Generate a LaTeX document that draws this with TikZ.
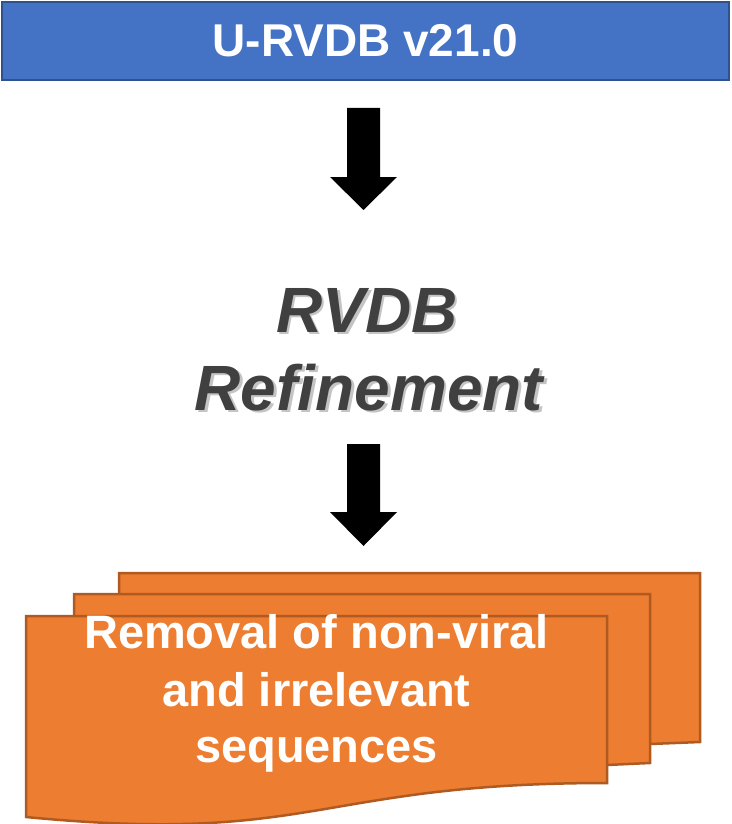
\documentclass[tikz,border=0pt]{standalone}
\usepackage{fontspec}
\setmainfont{Liberation Sans}
\definecolor{boxblue}{HTML}{4472C4}
\definecolor{boxblueedge}{HTML}{2F528F}
\definecolor{docorange}{HTML}{ED7D31}
\definecolor{docedge}{HTML}{AE5A21}
\definecolor{titlegray}{HTML}{404040}
\definecolor{shadowgray}{HTML}{C4C4C4}
\newcommand{\shadowed}[1]{\makebox[0pt][l]{\hspace{2.5pt}\raisebox{-2.5pt}{\textcolor{shadowgray}{#1}}}#1}
\tikzset{
  topbox/.style={draw=boxblueedge, line width=2pt, fill=boxblue, text=white,
    font=\fontsize{46}{55}\selectfont\bfseries, inner sep=0pt},
  reftext/.style={text=titlegray, font=\fontsize{64}{77}\selectfont\bfseries\itshape, inner sep=0pt},
  blockarrow/.style={fill=black},
  docpage/.style={fill=docorange, draw=docedge, line width=2.5pt, line join=miter},
  doctext/.style={text=white, font=\fontsize{47}{57}\selectfont\bfseries, inner sep=0pt}
}
\begin{document}
\begin{tikzpicture}[x=1pt,y=-1pt]
\useasboundingbox (0,0) rectangle (731,824);
% top box
\node[topbox, minimum width=727pt, minimum height=78pt] (top) at (365.5,41) {U-RVDB v21.0};
% arrow 1
\fill[blockarrow] (347,108) -- (380,108) -- (380,177) -- (397,177) -- (363.5,210) -- (330,177) -- (347,177) -- cycle;
% refinement text with shadow
\node[reftext, anchor=base] (rvdb) at (367,332) {\shadowed{RVDB}};
\node[reftext, anchor=base] (refine) at (369,410) {\shadowed{Refinement}};
% arrow 2
\fill[blockarrow] (347,444) -- (380,444) -- (380,512) -- (397,512) -- (363.5,546) -- (330,512) -- (347,512) -- cycle;
% multidocument
\filldraw[docpage] (119,573) -- (700,573) -- (700,742) -- (650,744) -- (119,744) -- cycle;
\filldraw[docpage] (74,594) -- (650,594) -- (650,763) -- (607,765) -- (74,765) -- cycle;
\filldraw[docpage] (26,616) -- (607,616) -- (607,783) .. controls (316,783) and (316,845) .. (26,817) -- cycle;
\node[doctext, anchor=base] (l1) at (316.5,648) {Removal of non-viral};
\node[doctext, anchor=base] (l2) at (316.5,706) {and irrelevant};
\node[doctext, anchor=base] (l3) at (316.5,762) {sequences};
\end{tikzpicture}
\end{document}
